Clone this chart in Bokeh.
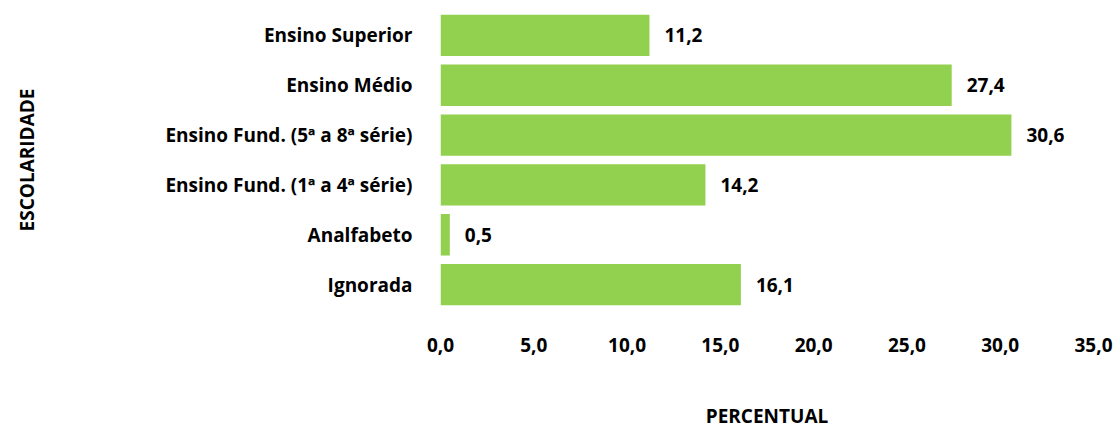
from bokeh.plotting import figure
from bokeh.models import Range1d, FactorRange, FixedTicker, ColumnDataSource
from bokeh.core.properties import value
from bokeh.embed import file_html
from bokeh.resources import INLINE

categories = ["Ensino Superior", "Ensino Médio", "Ensino Fund. (5ª a 8ª série)",
              "Ensino Fund. (1ª a 4ª série)", "Analfabeto", "Ignorada"]
values = [11.2, 27.4, 30.6, 14.2, 0.5, 16.1]
value_labels = ["11,2", "27,4", "30,6", "14,2", "0,5", "16,1"]
x_ticks = [0, 5, 10, 15, 20, 25, 30, 35]
x_tick_labels = ["0,0", "5,0", "10,0", "15,0", "20,0", "25,0", "30,0", "35,0"]

FONT = "Open Sans"
FS = "19px"
W, H = 1118, 431

src = ColumnDataSource(dict(cat=categories, val=values, lab=value_labels))

p = figure(width=W, height=H, output_backend="svg", toolbar_location=None,
           y_range=FactorRange(*list(reversed(categories))),
           x_range=Range1d(0, 35),
           min_border_left=440, min_border_right=W - 1093,
           min_border_top=10, min_border_bottom=122)
p.outline_line_color = None
p.grid.grid_line_color = None
p.background_fill_color = "white"
p.border_fill_color = "white"

p.hbar(y="cat", right="val", left=0, height=0.83, source=src,
       fill_color="#92D050", line_color=None)

p.text(x="val", y="cat", text="lab", source=src, x_offset=15,
       text_align="left", text_baseline="middle",
       text_font=value(FONT), text_font_style="bold", text_font_size=FS,
       text_color="black")

xa = p.xaxis[0]
xa.ticker = FixedTicker(ticks=x_ticks)
xa.major_label_overrides = {t: l for t, l in zip(x_ticks, x_tick_labels)}
xa.axis_line_color = None
xa.major_tick_line_color = None
xa.minor_tick_line_color = None
xa.major_label_text_font = FONT
xa.major_label_text_font_style = "bold"
xa.major_label_text_font_size = FS
xa.major_label_text_color = "black"
xa.major_label_standoff = 22
xa.axis_label = "PERCENTUAL"
xa.axis_label_text_font = FONT
xa.axis_label_text_font_style = "bold"
xa.axis_label_text_font_size = FS
xa.axis_label_text_color = "black"
xa.axis_label_standoff = 48

ya = p.yaxis[0]
ya.axis_line_color = None
ya.major_tick_line_color = None
ya.minor_tick_line_color = None
ya.major_label_text_font = FONT
ya.major_label_text_font_style = "bold"
ya.major_label_text_font_size = FS
ya.major_label_text_color = "black"
ya.major_label_standoff = 22
ya.axis_label = "ESCOLARIDADE"
ya.axis_label_text_font = FONT
ya.axis_label_text_font_style = "bold"
ya.axis_label_text_font_size = FS
ya.axis_label_text_color = "black"
ya.axis_label_standoff = 122

open("out.html", "w").write(file_html(p, INLINE))
